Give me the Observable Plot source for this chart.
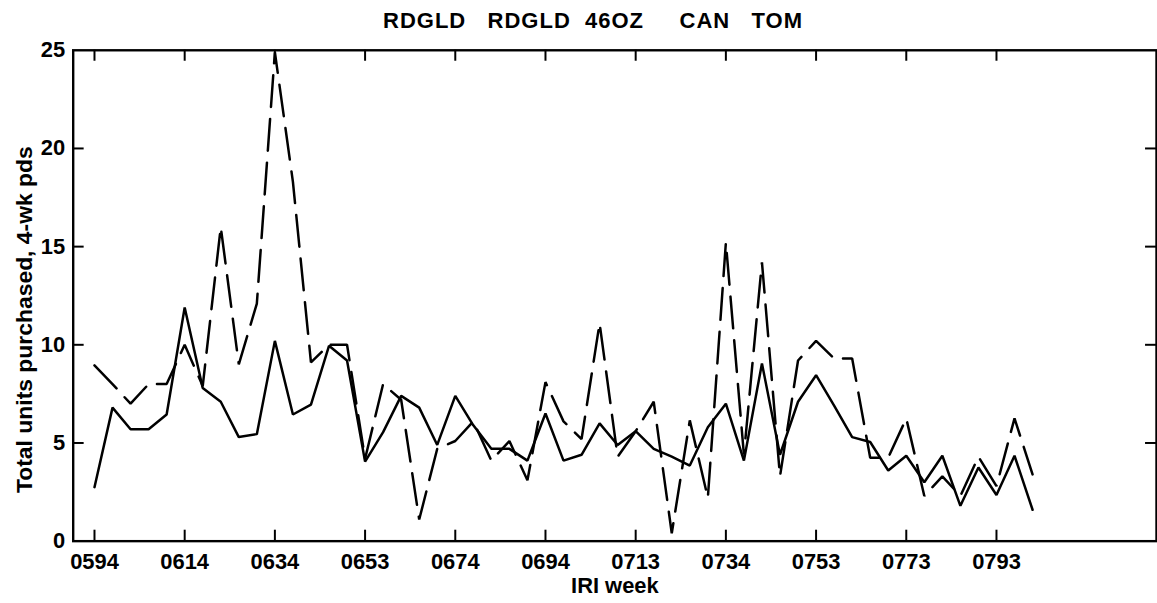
<!DOCTYPE html>
<html><head><meta charset="utf-8">
<script src="https://cdn.jsdelivr.net/npm/d3@7"></script>
<script src="https://cdn.jsdelivr.net/npm/@observablehq/plot@0.6"></script>
<style>
html,body{margin:0;padding:0;background:#fff;overflow:hidden;width:1157px;height:603px;}
#wrap{position:relative;width:1157px;height:603px;overflow:hidden;}
#title{position:absolute;left:383px;top:10px;font:bold 22px "Liberation Sans",Arial,sans-serif;letter-spacing:1px;white-space:pre;line-height:22px;color:#000;}
svg{display:block}
</style></head><body><div id="wrap"><div id="title"></div><div id="chart"></div></div>
<script>
// Tick labels (IRI week) at every 5th 4-week period
const periodLabels = ["0594","0614","0634","0653","0674","0694","0713","0734","0753","0773","0793"];
const labelPeriods = [0,5,10,15,20,25,30,35,40,45,50];
// Solid series: total units purchased per 4-week period
const solidUnits = [2.75,6.8,5.7,5.7,6.45,11.9,7.8,7.1,5.3,5.45,
  10.2,6.45,6.95,9.95,9.2,4.05,5.55,7.4,6.8,4.9,
  7.4,5.9,4.7,4.7,4.1,6.5,4.1,4.4,6.0,4.9,
  5.6,4.7,4.3,3.85,5.8,7.0,4.1,9.05,4.4,7.1,
  8.45,6.9,5.3,5.05,3.6,4.35,3.0,4.35,1.8,3.75,
  2.35,4.35,1.6];
// Dashed series
const dashedUnits = [8.95,8.0,7.0,8.0,8.0,10.0,7.9,16.0,9.0,12.1,
  24.9,18.3,9.1,10.0,10.0,4.2,8.0,7.2,1.1,4.7,
  5.1,6.1,4.1,5.1,3.1,8.1,6.1,5.2,11.1,4.3,
  5.6,7.1,0.4,6.15,2.2,15.2,4.4,14.2,3.3,9.2,
  10.2,9.3,9.3,4.25,4.25,6.25,2.3,3.3,2.3,4.3,
  2.8,6.25,3.4];
const yTicks = [0,5,10,15,20,25];
const innerYTicks = [5,10,15,20];
const titleText = "RDGLD   RDGLD  46OZ     CAN   TOM";
const yLabel = "Total units purchased, 4-wk pds";
const xLabel = "IRI week";

document.getElementById("title").textContent = titleText;

const W = 1162, H = 603, mL = 73, mR = 1, mT = 50, mB = 60;
const iw = W - mL - mR, ih = H - mT - mB;
const solid = solidUnits.map((v, i) => ({period: i, units: v}));
const dashed = dashedUnits.map((v, i) => ({period: i, units: v}));
const font = '"Liberation Sans", Arial, sans-serif';

const plot = Plot.plot({
  width: W, height: H,
  marginLeft: mL, marginRight: mR, marginTop: mT, marginBottom: mB,
  style: {fontFamily: font, fontWeight: "bold", fontSize: "22px", color: "#000", background: "#fff"},
  x: {domain: [-1.18, 58.87], axis: null, label: null},
  y: {domain: [0, 25], axis: null, label: null},
  marks: [
    Plot.line(dashed, {x: "period", y: "units", stroke: "#000", strokeWidth: 2.5, strokeDasharray: "32,12", strokeLinejoin: "miter"}),
    Plot.line(solid, {x: "period", y: "units", stroke: "#000", strokeWidth: 2.5, strokeLinejoin: "miter"}),
    Plot.frame({stroke: "#000", strokeWidth: 2.4}),
    Plot.tickX(labelPeriods, {x: d => d, insetTop: ih - 11, stroke: "#000", strokeWidth: 2}),
    Plot.tickX(labelPeriods, {x: d => d, insetBottom: ih - 11, stroke: "#000", strokeWidth: 2}),
    Plot.tickY(innerYTicks, {y: d => d, insetRight: iw - 11, stroke: "#000", strokeWidth: 2}),
    Plot.tickY(innerYTicks, {y: d => d, insetLeft: iw - 11, stroke: "#000", strokeWidth: 2}),
    Plot.axisX(labelPeriods, {tickSize: 0, tickPadding: 12, label: null, fontSize: 22, fontWeight: "bold",
      tickFormat: d => periodLabels[labelPeriods.indexOf(d)]}),
    Plot.axisY(yTicks, {tickSize: 0, tickPadding: 8, label: null, fontSize: 22, fontWeight: "bold"}),
    Plot.text([yLabel], {text: d => d, frameAnchor: "left", rotate: -90, dx: -49, dy: 24,
      textAnchor: "middle", lineAnchor: "middle", fontSize: 23, fontWeight: "bold"}),
    Plot.text([xLabel], {text: d => d, frameAnchor: "bottom", dy: 45,
      lineAnchor: "middle", fontSize: 22, fontWeight: "bold"})
  ]
});
document.getElementById("chart").appendChild(plot);
</script>
</body></html>
